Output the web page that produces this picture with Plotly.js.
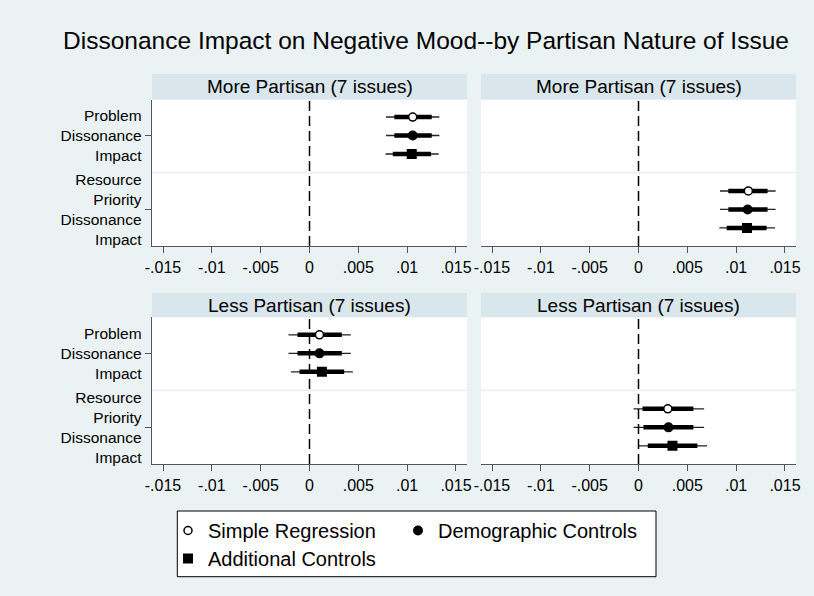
<!DOCTYPE html>
<html>
<head>
<meta charset="utf-8">
<script src="https://cdn.plot.ly/plotly-3.0.1.min.js"></script>
<style>html,body{margin:0;padding:0;background:#EAF2F3;}#chart{width:814px;height:596px;}</style>
</head>
<body>
<div id="chart"></div>
<script>
// ---------------- data ----------------
const chartTitle = 'Dissonance Impact on Negative Mood--by Partisan Nature of Issue';
const models = ['Simple Regression', 'Demographic Controls', 'Additional Controls'];
const groups = ['More Partisan (7 issues)', 'Less Partisan (7 issues)'];
const issues = ['Problem<br>Dissonance<br>Impact', 'Resource<br>Priority<br>Dissonance<br>Impact'];
const xTickVals = [-0.015, -0.01, -0.005, 0, 0.005, 0.01, 0.015];
const xTickText = ['-.015', '-.01', '-.005', '0', '.005', '.01', '.015'];

// More partisan – Problem dissonance impact
const moreProbEst  = [0.01057, 0.01057, 0.01047];
const moreProbLo95 = [0.00784, 0.00784, 0.00778];
const moreProbHi95 = [0.01330, 0.01330, 0.01323];
const moreProbLo90 = [0.00869, 0.00869, 0.00853];
const moreProbHi90 = [0.01252, 0.01252, 0.01245];
// More partisan – Resource priority dissonance impact
const moreResEst  = [0.01125, 0.01118, 0.01111];
const moreResLo95 = [0.00835, 0.00835, 0.00828];
const moreResHi95 = [0.01404, 0.01404, 0.01398];
const moreResLo90 = [0.00920, 0.00920, 0.00903];
const moreResHi90 = [0.01322, 0.01322, 0.01312];
// Less partisan – Problem dissonance impact
const lessProbEst  = [0.00102, 0.00102, 0.00127];
const lessProbLo95 = [-0.00215, -0.00215, -0.00190];
const lessProbHi95 = [0.00423, 0.00423, 0.00444];
const lessProbLo90 = [-0.00123, -0.00123, -0.00102];
const lessProbHi90 = [0.00331, 0.00331, 0.00355];
// Less partisan – Resource priority dissonance impact
const lessResEst  = [0.00300, 0.00307, 0.00348];
const lessResLo95 = [-0.00051, -0.00051, 0.00005];
const lessResHi95 = [0.00672, 0.00672, 0.00703];
const lessResLo90 = [0.00041, 0.00051, 0.00095];
const lessResHi90 = [0.00562, 0.00562, 0.00603];

// ---------------- build ----------------
const FONT = 'Liberation Sans, Arial, Helvetica, sans-serif';
const BG = '#EAF2F3';
const STRIP = '#D9E6EB';
const AXC = '#555555';

const panels = [
  {xa: 'x',  ya: 'y',  group: 0, issue: 0, est: moreProbEst, lo95: moreProbLo95, hi95: moreProbHi95, lo90: moreProbLo90, hi90: moreProbHi90},
  {xa: 'x2', ya: 'y2', group: 0, issue: 1, est: moreResEst,  lo95: moreResLo95,  hi95: moreResHi95,  lo90: moreResLo90,  hi90: moreResHi90},
  {xa: 'x3', ya: 'y3', group: 1, issue: 0, est: lessProbEst, lo95: lessProbLo95, hi95: lessProbHi95, lo90: lessProbLo90, hi90: lessProbHi90},
  {xa: 'x4', ya: 'y4', group: 1, issue: 1, est: lessResEst,  lo95: lessResLo95,  hi95: lessResHi95,  lo90: lessResLo90,  hi90: lessResHi90}
];
// row position of each model within an issue block (issue block spans 4 rows)
function rowPos(issue, m) { return issue * 4 + m + 1; }

const markerStyles = [
  {symbol: 'circle', size: 8, color: 'white', line: {color: 'black', width: 1.5}},
  {symbol: 'circle', size: 10, color: 'black', line: {color: 'black', width: 0}},
  {symbol: 'square', size: 10, color: 'black', line: {color: 'black', width: 0}}
];
const legendOf = ['legend', 'legend2', 'legend3'];

const traces = [];
panels.forEach((p, pi) => {
  const xs95 = [], ys95 = [], xs90 = [], ys90 = [];
  models.forEach((m, mi) => {
    const yv = rowPos(p.issue, mi);
    xs95.push(p.lo95[mi], p.hi95[mi], null); ys95.push(yv, yv, null);
    xs90.push(p.lo90[mi], p.hi90[mi], null); ys90.push(yv, yv, null);
  });
  traces.push({type: 'scatter', mode: 'lines', x: xs95, y: ys95, xaxis: p.xa, yaxis: p.ya,
    line: {color: '#222222', width: 1.4}, showlegend: false, hoverinfo: 'skip'});
  traces.push({type: 'scatter', mode: 'lines', x: xs90, y: ys90, xaxis: p.xa, yaxis: p.ya,
    line: {color: '#000000', width: 4.5}, showlegend: false, hoverinfo: 'skip'});
});
models.forEach((m, mi) => {
  panels.forEach((p, pi) => {
    traces.push({type: 'scatter', mode: 'markers', name: m, legendgroup: m,
      legend: legendOf[mi], showlegend: pi === 0,
      x: [p.est[mi]], y: [rowPos(p.issue, mi)], xaxis: p.xa, yaxis: p.ya,
      marker: markerStyles[mi]});
  });
});

const W = 814, H = 596;
const px = v => v / W;
const py = v => 1 - v / H;
const colDom = [[px(152), px(467)], [px(481), px(796)]];
const rowDom = [[py(246), py(99.5)], [py(464), py(317.3)]];
const stripTop = [74, 292.7];
const stripBot = [99.5, 317.3];
const xRange = [-0.01613, 0.01613];
const yRange = [7.98, 0.05];

function legendSpec(xpx, ypx) {
  return {orientation: 'h', x: px(xpx), xanchor: 'left', y: py(ypx), yanchor: 'top',
    bgcolor: 'rgba(0,0,0,0)', borderwidth: 0, font: {family: FONT, size: 20, color: 'black'},
    traceorder: 'normal', itemclick: false};
}

const layout = {
  width: W, height: H,
  margin: {l: 0, r: 0, t: 0, b: 0},
  paper_bgcolor: BG, plot_bgcolor: 'white',
  font: {family: FONT, color: 'black', size: 16},
  title: {text: chartTitle, font: {family: FONT, size: 24.5, color: 'black'},
    x: px(426), xanchor: 'center', xref: 'paper', y: 1 - 40 / H, yanchor: 'middle', yref: 'container'},
  showlegend: true,
  legend: legendSpec(168, 511),
  legend2: legendSpec(398, 511),
  legend3: legendSpec(168, 539),
  shapes: [],
  annotations: []
};

panels.forEach((p, pi) => {
  const n = pi === 0 ? '' : String(pi + 1);
  const col = p.issue, row = p.group;
  layout['xaxis' + n] = {domain: colDom[col], anchor: 'y' + n, range: xRange,
    tickvals: xTickVals, ticktext: xTickText, ticks: 'outside', ticklen: 6, tickwidth: 1,
    tickcolor: AXC, showline: true, linecolor: AXC, linewidth: 1.3, showgrid: false,
    zeroline: false, tickfont: {size: 16, family: FONT, color: 'black'}, fixedrange: true};
  layout['yaxis' + n] = {domain: rowDom[row], anchor: 'x' + n, range: yRange,
    tickvals: col === 0 ? [2, 6] : [], ticktext: col === 0 ? issues : [],
    ticks: col === 0 ? 'outside' : '', ticklen: 6, tickwidth: 1, tickcolor: AXC,
    showline: col === 0, linecolor: AXC, linewidth: 1.3, showgrid: false, zeroline: false,
    showticklabels: col === 0, tickfont: {size: 15.5, family: FONT, color: 'black'}, fixedrange: true};
  // separator between issue blocks
  layout.shapes.push({type: 'line', xref: 'x' + n + ' domain', yref: 'y' + n,
    x0: 0, x1: 1, y0: 4, y1: 4, line: {color: BG, width: 2}, layer: 'below'});
  // zero reference line
  layout.shapes.push({type: 'line', xref: 'x' + n, yref: 'y' + n + ' domain',
    x0: 0, x1: 0, y0: 0, y1: 1, line: {color: 'black', width: 1.5, dash: '10px,5px'}, layer: 'above'});
});

// strips with panel titles
[0, 1].forEach(row => {
  [0, 1].forEach(col => {
    layout.shapes.push({type: 'rect', xref: 'paper', yref: 'paper',
      x0: colDom[col][0], x1: colDom[col][1], y0: py(stripBot[row]), y1: py(stripTop[row]),
      fillcolor: STRIP, line: {width: 0}, layer: 'below'});
    layout.annotations.push({xref: 'paper', yref: 'paper', showarrow: false,
      x: (colDom[col][0] + colDom[col][1]) / 2, y: py((stripTop[row] + stripBot[row]) / 2),
      xanchor: 'center', yanchor: 'middle', text: groups[row],
      font: {family: FONT, size: 19, color: 'black'}});
  });
});

// legend box
layout.shapes.push({type: 'rect', xref: 'paper', yref: 'paper',
  x0: px(177.3), x1: px(656), y0: py(576.7), y1: py(511),
  fillcolor: 'white', line: {color: 'black', width: 1}, layer: 'below'});

Plotly.newPlot('chart', traces, layout, {displayModeBar: false, staticPlot: true});
</script>
</body>
</html>
